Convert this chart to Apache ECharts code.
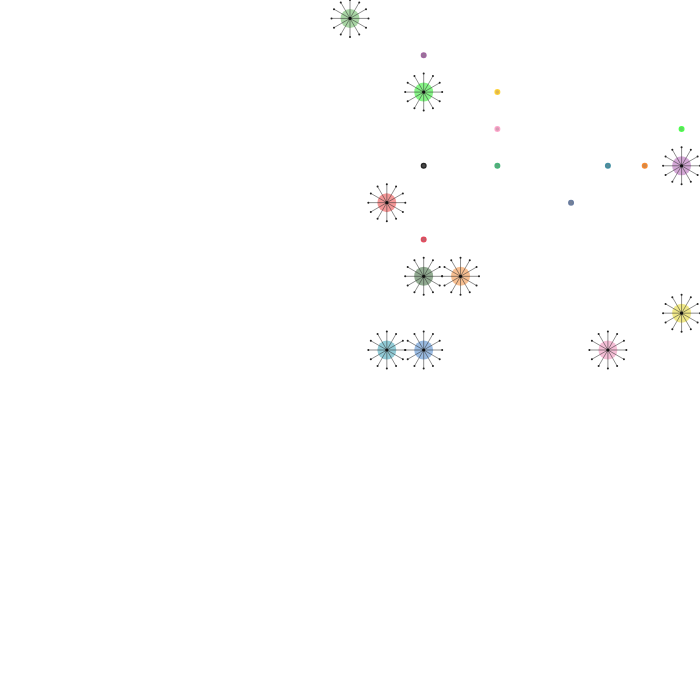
<!DOCTYPE html>
<html>
<head>
<meta charset="utf-8">
<script src="https://cdn.jsdelivr.net/npm/echarts@6/dist/echarts.min.js"></script>
<style>html,body{margin:0;padding:0;background:#fff}#main{width:700px;height:700px}</style>
</head>
<body>
<div id="main"></div>
<script>
// Grid positions (column, row) of the nodes
var bigX = [0, 2, 1, 2, 3, 9, 9, 1, 2, 7];
var bigY = [0, 2, 5, 7, 7, 4, 8, 9, 9, 9];
var bigColors = ['#8cc887', '#5ef05e', '#f07474', '#6e906e', '#f5a96c', '#c68bc8', '#ebe060', '#6cb9c8', '#78a4d8', '#f2a8c8'];

var smallX = [2, 4, 4, 9, 2, 4, 7, 8, 6, 2];
var smallY = [1, 2, 3, 3, 4, 4, 4, 4, 5, 6];
var smallColors = ['#7a4a7a', '#d4a020', '#c87d9c', '#33cc33', '#111111', '#2e8b57', '#2a6a7a', '#c0651a', '#4a5a78', '#b03040'];

function zip(xs, ys, cs) {
  return xs.map(function (x, i) { return [x, ys[i], cs[i]]; });
}

var chart = echarts.init(document.getElementById('main'));
chart.setOption({
  animation: false,
  grid: { left: 0, right: 0, top: 0, bottom: 0 },
  xAxis: { type: 'value', min: -9.5, max: 9.5, show: false },
  yAxis: { type: 'value', min: -0.5, max: 18.5, inverse: true, show: false },
  series: [
    {
      type: 'custom',
      data: zip(smallX, smallY, smallColors),
      renderItem: function (params, api) {
        var p = api.coord([api.value(0), api.value(1)]);
        var c = smallColors[params.dataIndex];
        return {
          type: 'circle',
          shape: { cx: p[0], cy: p[1], r: 2.4 },
          style: { fill: echarts.color.lift(c, 0.15), stroke: echarts.color.lift(c, -0.3), lineWidth: 1.2, opacity: 0.9 }
        };
      }
    },
    {
      type: 'custom',
      data: zip(bigX, bigY, bigColors),
      renderItem: function (params, api) {
        var p = api.coord([api.value(0), api.value(1)]);
        var c = bigColors[params.dataIndex];
        var children = [{
          type: 'circle',
          shape: { cx: p[0], cy: p[1], r: 9.5 },
          style: { fill: c, opacity: 0.75 }
        }];
        var L = 18.5;
        for (var k = 0; k < 12; k++) {
          var a = k * Math.PI / 6;
          var ex = p[0] + L * Math.cos(a), ey = p[1] + L * Math.sin(a);
          children.push({
            type: 'line',
            shape: { x1: p[0], y1: p[1], x2: ex, y2: ey },
            style: { stroke: 'rgba(50,50,50,0.55)', lineWidth: 1 }
          });
          children.push({
            type: 'circle',
            shape: { cx: ex, cy: ey, r: 1 },
            style: { fill: '#222' }
          });
        }
        children.push({
          type: 'circle',
          shape: { cx: p[0], cy: p[1], r: 1.6 },
          style: { fill: '#111' }
        });
        return { type: 'group', children: children };
      }
    }
  ]
});
</script>
</body>
</html>
